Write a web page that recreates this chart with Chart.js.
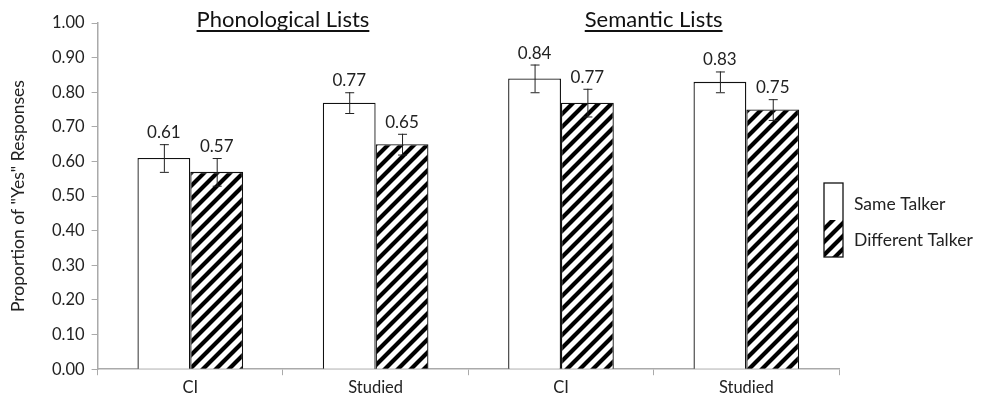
<!DOCTYPE html>
<html lang="en">
<head>
    <meta charset="UTF-8">
    <title>Proportion of "Yes" Responses</title>
    <style>
        body { margin: 0; background: #fff; }
        .wrap { width: 983px; height: 403px; }
    </style>
    <script src="https://cdn.jsdelivr.net/npm/chart.js"></script>
</head>
<body>
    <div class="wrap"><canvas id="chart" width="983" height="403"></canvas></div>
    <script>
        // data
        const categories = ['CI', 'Studied', 'CI', 'Studied'];
        const groupTitles = ['Phonological Lists', 'Semantic Lists'];
        const seriesNames = ['Same Talker', 'Different Talker'];
        const sameTalker = [0.61, 0.77, 0.84, 0.83];
        const differentTalker = [0.57, 0.65, 0.77, 0.75];
        const sameErr = [0.04, 0.03, 0.04, 0.03];
        const differentErr = [0.04, 0.03, 0.04, 0.03];
        const yTicks = [0, 0.1, 0.2, 0.3, 0.4, 0.5, 0.6, 0.7, 0.8, 0.9, 1.0];

        const FONT = 'Lato, "Open Sans", sans-serif';

        function makeHatch() {
            const s = 13;
            const c = document.createElement('canvas');
            c.width = s; c.height = s;
            const g = c.getContext('2d');
            g.fillStyle = '#fff';
            g.fillRect(0, 0, s, s);
            g.strokeStyle = '#000';
            g.lineWidth = 4.2;
            g.beginPath();
            g.moveTo(-2, s + 2); g.lineTo(s + 2, -2);
            g.moveTo(-s / 2 - 2, s / 2 + 2); g.lineTo(s / 2 + 2, -s / 2 - 2);
            g.moveTo(s / 2 - 2, s * 1.5 + 2); g.lineTo(s * 1.5 + 2, s / 2 - 2);
            g.stroke();
            return document.getElementById('chart').getContext('2d').createPattern(c, 'repeat');
        }
        const hatch = makeHatch();

        // error bars + value labels
        const errorBars = {
            id: 'errorBars',
            afterDatasetsDraw(chart) {
                const ctx = chart.ctx;
                const y = chart.scales.y;
                const errs = [sameErr, differentErr];
                ctx.save();
                chart.data.datasets.forEach((ds, di) => {
                    const meta = chart.getDatasetMeta(di);
                    meta.data.forEach((bar, i) => {
                        const v = ds.data[i], e = errs[di][i];
                        const top = y.getPixelForValue(v + e);
                        const bot = y.getPixelForValue(v - e);
                        ctx.strokeStyle = '#222';
                        ctx.lineWidth = 1;
                        ctx.beginPath();
                        ctx.moveTo(bar.x + 0.5, top); ctx.lineTo(bar.x + 0.5, bot);
                        ctx.moveTo(bar.x - 4, top + 0.5); ctx.lineTo(bar.x + 5, top + 0.5);
                        ctx.moveTo(bar.x - 4, bot + 0.5); ctx.lineTo(bar.x + 5, bot + 0.5);
                        ctx.stroke();
                        ctx.fillStyle = '#222';
                        ctx.font = '17px ' + FONT;
                        ctx.textAlign = 'center';
                        ctx.textBaseline = 'bottom';
                        ctx.fillText(v.toFixed(2), bar.x, top - 3);
                    });
                });
                ctx.restore();
            }
        };

        // group titles and stacked legend box
        const decorations = {
            id: 'decorations',
            afterDraw(chart) {
                const ctx = chart.ctx;
                const x = chart.scales.x;
                const area = chart.chartArea;
                ctx.save();
                ctx.fillStyle = '#111';
                ctx.strokeStyle = '#111';
                ctx.font = '22px ' + FONT;
                ctx.textAlign = 'center';
                ctx.textBaseline = 'alphabetic';
                groupTitles.forEach((t, gi) => {
                    const cx = (x.getPixelForValue(gi * 2) + x.getPixelForValue(gi * 2 + 1)) / 2;
                    const w = ctx.measureText(t).width;
                    ctx.fillText(t, cx, 27);
                    ctx.lineWidth = 2;
                    ctx.beginPath();
                    ctx.moveTo(cx - w / 2, 31); ctx.lineTo(cx + w / 2, 31);
                    ctx.stroke();
                });

                // legend
                const lx = area.right - 15, ly = 183, bw = 19, bh = 37;
                ctx.fillStyle = '#fff';
                ctx.fillRect(lx, ly, bw, bh);
                ctx.fillStyle = hatch;
                ctx.fillRect(lx, ly + bh, bw, bh);
                ctx.lineWidth = 1.3;
                ctx.strokeStyle = '#111';
                ctx.strokeRect(lx, ly, bw, bh * 2);
                ctx.fillStyle = '#222';
                ctx.font = '17.5px ' + FONT;
                ctx.textAlign = 'left';
                ctx.textBaseline = 'middle';
                ctx.fillText(seriesNames[0], lx + bw + 11, ly + 21);
                ctx.fillText(seriesNames[1], lx + bw + 11, ly + bh + 20);
                ctx.restore();
            }
        };

        new Chart(document.getElementById('chart'), {
            type: 'bar',
            data: {
                labels: categories,
                datasets: [
                    {
                        label: seriesNames[0],
                        data: sameTalker,
                        backgroundColor: '#fff',
                        borderColor: '#111',
                        borderWidth: 1.3
                    },
                    {
                        label: seriesNames[1],
                        data: differentTalker,
                        backgroundColor: hatch,
                        borderColor: '#111',
                        borderWidth: 1.3
                    }
                ]
            },
            options: {
                responsive: false,
                animation: false,
                layout: { padding: { top: 23, right: 144, bottom: 2, left: 8 } },
                datasets: { bar: { categoryPercentage: 0.57, barPercentage: 1.0 } },
                plugins: {
                    legend: { display: false },
                    tooltip: { enabled: false }
                },
                scales: {
                    x: {
                        grid: {
                            offset: true,
                            drawOnChartArea: false,
                            tickLength: 6,
                            color: '#aaa'
                        },
                        border: { color: '#aaa', width: 1.5 },
                        ticks: { color: '#222', font: { family: FONT, size: 16.5 }, padding: 3 }
                    },
                    y: {
                        min: 0,
                        max: 1,
                        afterBuildTicks(scale) { scale.ticks = yTicks.map(v => ({ value: v })); },
                        grid: {
                            drawOnChartArea: false,
                            tickLength: 6,
                            color: '#aaa'
                        },
                        border: { color: '#aaa', width: 1.5 },
                        ticks: {
                            color: '#222',
                            font: { family: FONT, size: 16.5 },
                            padding: 7,
                            callback: v => Number(v).toFixed(2)
                        },
                        title: {
                            display: true,
                            text: 'Proportion of "Yes" Responses',
                            color: '#222',
                            font: { family: FONT, size: 17.5 },
                            padding: { top: 0, bottom: 16 }
                        }
                    }
                }
            },
            plugins: [errorBars, decorations]
        });
    </script>
</body>
</html>
